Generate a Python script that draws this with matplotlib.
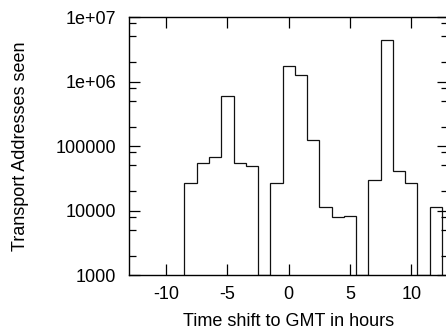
import numpy as np
import matplotlib.pyplot as plt
from matplotlib.ticker import LogLocator, FixedLocator, NullFormatter

plt.rcParams['font.family'] = ['Liberation Sans', 'DejaVu Sans']
plt.rcParams['axes.unicode_minus'] = False

# hourly bins, centred on whole-hour offsets from GMT
offsets = np.arange(-8, 13)
counts = np.array([
    26700, 55000, 67500, 603000, 54000, 48400,   # -8 .. -3
    0,                                         # -2
    26700, 1760000, 1250000, 124000, 11500, 7940, 8330,  # -1 .. 5
    0,                                         # 6
    29700, 4450000, 40500, 26700,              # 7 .. 10
    0,                                         # 11
    11500,                                     # 12
])

ymin, ymax = 1e3, 1e7
edges = np.append(offsets - 0.5, offsets[-1] + 0.5)

fig = plt.figure(figsize=(4.46, 3.31), dpi=100)
ax = fig.add_axes([0.290, 0.169, 0.7145, 0.7796])

heights = np.where(counts > 0, counts, ymin)
ax.stairs(heights, edges, baseline=ymin, fill=False, color='#111111', lw=0.9)

ax.set_yscale('log')
ax.set_ylim(ymin, ymax)
ax.set_xlim(-13, 13)

ax.set_xticks([-10, -5, 0, 5, 10])
ax.yaxis.set_major_locator(FixedLocator([1e3, 1e4, 1e5, 1e6, 1e7]))
ax.set_yticklabels(['1000', '10000', '100000', '1e+06', '1e+07'])
ax.yaxis.set_minor_locator(LogLocator(base=10, subs=[2, 5, 8]))
ax.yaxis.set_minor_formatter(NullFormatter())

ax.tick_params(which='both', direction='in', top=True, right=True,
               labelsize=13, width=0.9, color='black')
ax.tick_params(which='major', length=8)
ax.tick_params(which='minor', length=5)
ax.tick_params(axis='x', which='major', pad=8)
ax.tick_params(axis='y', which='major', pad=9.5)
for s in ax.spines.values():
    s.set_linewidth(1.0)

ax.set_xlabel('Time shift to GMT in hours', fontsize=13, labelpad=7)
ax.set_ylabel('Transport Addresses seen', fontsize=13, labelpad=19)

fig.savefig('out.png', dpi=100)
